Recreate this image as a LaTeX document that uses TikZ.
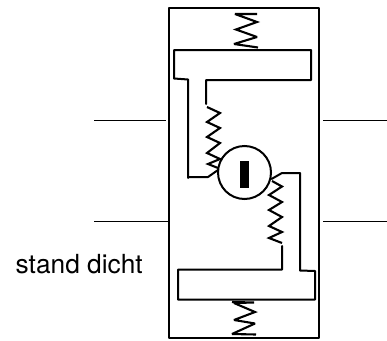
\documentclass[tikz,border=0pt]{standalone}
\usepackage{fontspec}
\setmainfont{TeX Gyre Heros}
\tikzset{
  ln/.style={line width=2pt,line join=round,line cap=round,black},
  lead/.style={line width=1.4pt,black},
  spr/.style={line width=2.1pt,line join=miter,miter limit=3,black},
}
\begin{document}
\begin{tikzpicture}[x=1pt,y=-1pt]
\useasboundingbox (0,0) rectangle (387,340);
% housing
\draw[ln] (168.5,338) -- (168.5,8) -- (319,8) -- (319,338) -- cycle;
% leads
\coordinate (l1) at (94,120.5); \coordinate (l1e) at (166,120.5);
\coordinate (l2) at (94,221.5); \coordinate (l2e) at (170,221.5);
\coordinate (r1) at (323,120.5); \coordinate (r1e) at (387,120.5);
\coordinate (r2) at (323,221.5); \coordinate (r2e) at (387,221.5);
\draw[lead] (l1) -- (l1e);
\draw[lead] (l2) -- (l2e);
\draw[lead] (r1) -- (r1e);
\draw[lead] (r2) -- (r2e);
% upper T
\draw[ln] (188,178) -- (188,79.5) -- (174,78.5) -- (174,50) -- (311,50) -- (311,80) -- (206,80) -- (206,104);
\draw[ln] (188,177) -- (208,177) -- (218,170);
% lower T
\draw[ln] (282,246) -- (282,269.5) -- (178,269.5) -- (178,299.5) -- (315,299.5) -- (315,271) -- (300,270.5) -- (300,173) -- (282,173) -- (271.5,179);
% circle and bar
\node[circle,draw,line width=2pt,minimum size=53pt,inner sep=0pt] (c) at (244.5,172.5) {};
\fill (240.2,161) rectangle (249,187.5);
% springs
\draw[spr] (257,14) -- (235,14) -- (257,22) -- (236,29.5) -- (257,37) -- (234,44) -- (258,47.5);
\draw[spr] (207,107) -- (220,113) -- (207,122) -- (220,128) -- (207,137) -- (220,143) -- (207,153) -- (220,159) -- (208,164) -- (218,168);
\draw[spr] (272,181) -- (282,186.5) -- (269,195) -- (282,202) -- (269,210) -- (282,217) -- (269,226) -- (282,232) -- (269,238) -- (282,243);
\draw[spr] (232,302) -- (254,302.5) -- (234,303) -- (255,312) -- (234,320) -- (255,323.5) -- (232,334) -- (256,334.5);
% label
\node[anchor=base west,inner sep=0pt,font=\fontsize{26.3}{30}\selectfont] (t) at (15.5,273) {stand dicht};
\end{tikzpicture}
\end{document}
